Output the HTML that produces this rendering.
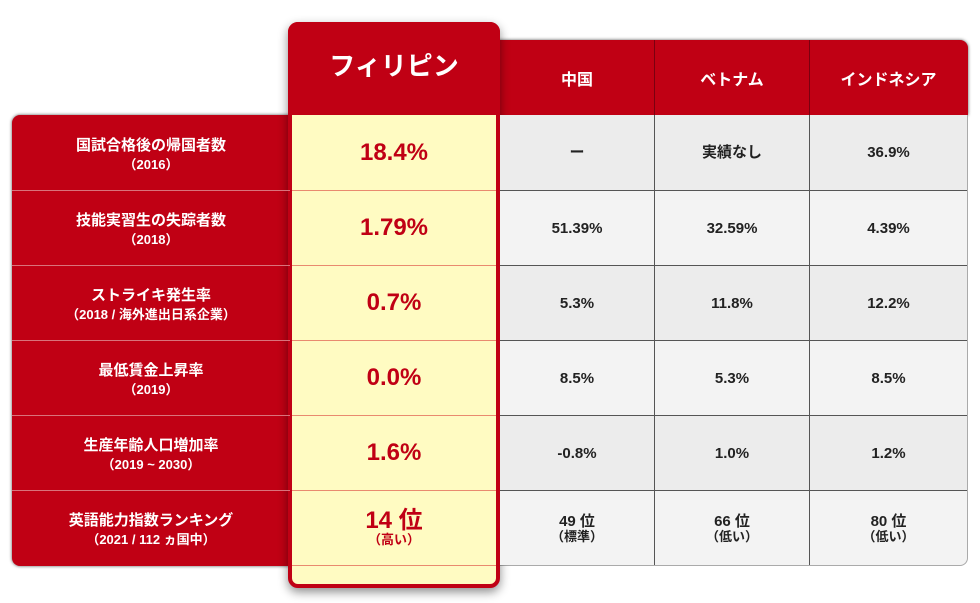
<!DOCTYPE html>
<html><head><meta charset="utf-8"><style>
*{margin:0;padding:0;box-sizing:border-box}
body{width:980px;height:603px;background:#fff;position:relative;overflow:hidden;font-family:"Liberation Sans","Noto Sans CJK JP",sans-serif;font-weight:bold}
.abs{position:absolute}
.lbl{position:absolute;left:12px;width:278px;height:75px;display:flex;flex-direction:column;align-items:center;justify-content:center;color:#fff;font-size:15px;line-height:24px;border-top:1px solid #d9737b}
.cell{position:absolute;height:75px;display:flex;flex-direction:column;align-items:center;justify-content:center;color:#222;font-size:15px;line-height:17px;border-top:1px solid #555;border-right:1px solid #555}
.ph{position:absolute;left:292px;width:204px;height:75px;display:flex;flex-direction:column;align-items:center;justify-content:center;color:#c00014;font-size:24px;line-height:24px;border-top:1px solid #e98a6f}
.hd{position:absolute;top:40px;height:75px;display:flex;align-items:center;justify-content:center;color:#fff;font-size:16px;border-right:1px solid #7a0010}
small{font-size:13px;line-height:14px}
</style></head><body>
<div class="abs" style="left:12px;top:115px;width:290px;height:451px;background:#c00014;border-radius:8px 0 0 8px;box-shadow:0 0 3px #555"></div>
<div class="abs" style="left:490px;top:40px;width:478px;height:75px;background:#c00014;border-radius:0 8px 0 0;box-shadow:0 0 3px #555"></div>
<div class="abs" style="left:500px;top:115px;width:468px;height:451px;background:#efefef;border-radius:0 0 8px 0;border:1px solid #aaa;border-top:none"></div>
<div class="hd" style="left:500px;width:155px">中国</div>
<div class="hd" style="left:655px;width:155px">ベトナム</div>
<div class="hd" style="left:810px;width:157px;border-right:none">インドネシア</div>
<div class="abs" style="left:288px;top:22px;width:212px;height:566px;background:#fffbc2;border:4px solid #c00014;border-radius:10px;box-shadow:0 4px 10px rgba(0,0,0,.45)"></div>
<div class="abs" style="left:288px;top:22px;width:212px;height:93px;background:#c00014;border-radius:10px 10px 0 0;color:#fff;font-size:26px;display:flex;align-items:center;justify-content:center;padding-bottom:8px">フィリピン</div>
<div class="abs" style="left:292px;top:565px;width:204px;border-top:1px solid #e98a6f"></div>
<div id="rows"></div>
<script>
const labels=[["国試合格後の帰国者数","（2016）"],["技能実習生の失踪者数","（2018）"],["ストライキ発生率","（2018 / 海外進出日系企業）"],["最低賃金上昇率","（2019）"],["生産年齢人口増加率","（2019 ~ 2030）"],["英語能力指数ランキング","（2021 / 112 ヵ国中）"]];
const philippines=[["18.4%"],["1.79%"],["0.7%"],["0.0%"],["1.6%"],["14 位","（高い）"]];
const china=[["ー"],["51.39%"],["5.3%"],["8.5%"],["-0.8%"],["49 位","（標準）"]];
const vietnam=[["実績なし"],["32.59%"],["11.8%"],["5.3%"],["1.0%"],["66 位","（低い）"]];
const indonesia=[["36.9%"],["4.39%"],["12.2%"],["8.5%"],["1.2%"],["80 位","（低い）"]];
const root=document.getElementById('rows');
function mk(cls,style,parts){const d=document.createElement('div');d.className=cls;d.style.cssText=style;
parts.forEach((t,i)=>{const s=document.createElement(i?'small':'span');s.textContent=t;d.appendChild(s);});root.appendChild(d);return d;}
labels.forEach((l,i)=>{const top=115+i*75;
const a=mk('lbl','top:'+top+'px;'+(i?'':'border-top:none'),l);


const p=mk('ph','top:'+top+'px;'+(i?'':'border-top:none'),philippines[i]);


[[china,500,155],[vietnam,655,155],[indonesia,810,157]].forEach(([arr,x,w],j)=>{
const bg=i%2?'#f3f3f3':'#ececec';
const c=mk('cell','top:'+top+'px;left:'+x+'px;width:'+w+'px;background:'+bg+';'+(i?'':'border-top:none;')+(j==2?'border-right:none;':'')+(i==5&&j==2?'border-radius:0 0 8px 0;':''),arr[i]);

});});
</script>
</body></html>
